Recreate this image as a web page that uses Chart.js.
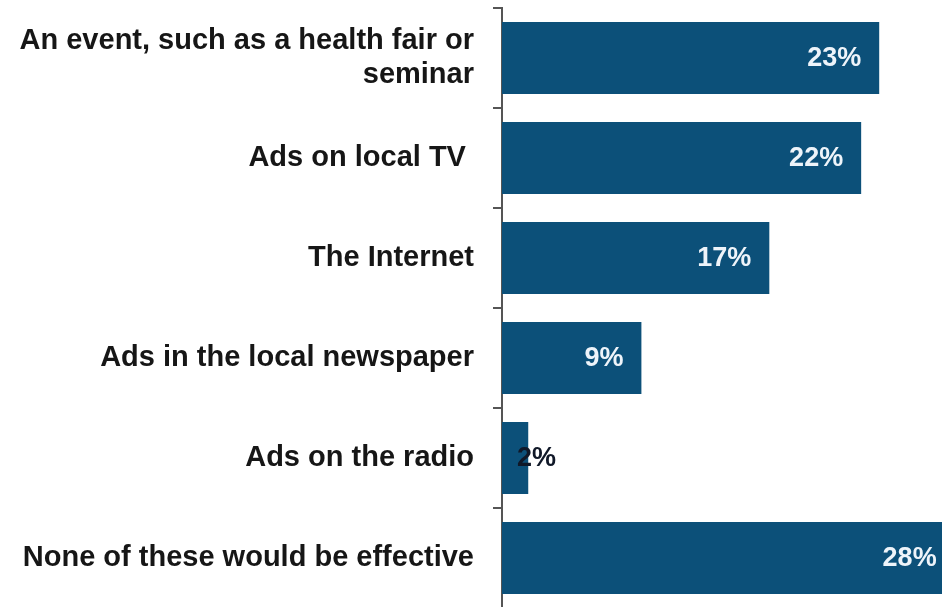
<!DOCTYPE html>
<html>
<head>
<meta charset="utf-8">
<script src="https://cdn.jsdelivr.net/npm/chart.js@4/dist/chart.umd.min.js"></script>
<style>
  html, body { margin: 0; padding: 0; background: #ffffff; overflow: hidden; width: 942px; height: 607px; }
  #wrap { position: absolute; left: 0; top: 0; width: 994px; height: 608px; }
</style>
</head>
<body>
<div id="wrap"><canvas id="c" width="994" height="608"></canvas></div>
<script>
// Categories (top to bottom)
const categories = [
  ["An event, such as a health fair or", "seminar"],
  "Ads on local TV ",
  "The Internet",
  "Ads in the local newspaper",
  "Ads on the radio",
  "None of these would be effective"
];
// Bar lengths (percent)
const barValues = [23.0, 21.9, 16.3, 8.5, 1.6, 27.6];
// Printed value labels (percent)
const valueLabels = [23, 22, 17, 9, 2, 28];

const FONT = '"Liberation Sans", Arial, Helvetica, sans-serif';
const BAR_COLOR = '#0c5079';

const valueLabelPlugin = {
  id: 'valueLabels',
  afterDatasetsDraw(chart) {
    const ctx = chart.ctx;
    const meta = chart.getDatasetMeta(0);
    ctx.save();
    ctx.font = 'bold 27px ' + FONT;
    ctx.textBaseline = 'middle';
    meta.data.forEach((bar, i) => {
      const txt = valueLabels[i] + '%';
      const w = ctx.measureText(txt).width;
      const len = bar.x - bar.base;
      if (len >= w + 36) {
        ctx.fillStyle = '#eef4fa';
        ctx.textAlign = 'right';
        ctx.fillText(txt, bar.x - 18, bar.y + 1);
      } else {
        ctx.fillStyle = '#101828';
        ctx.textAlign = 'left';
        ctx.fillText(txt, bar.base + 15, bar.y + 1);
      }
    });
    ctx.restore();
  }
};

new Chart(document.getElementById('c'), {
  type: 'bar',
  data: {
    labels: categories,
    datasets: [{
      data: barValues,
      backgroundColor: BAR_COLOR,
      borderWidth: 0,
      barPercentage: 0.72,
      categoryPercentage: 1.0
    }]
  },
  options: {
    indexAxis: 'y',
    responsive: false,
    animation: false,
    layout: { padding: { top: 8, left: 0, right: 0, bottom: 0 } },
    plugins: { legend: { display: false }, tooltip: { enabled: false } },
    scales: {
      x: {
        display: false,
        min: 0,
        max: 30
      },
      y: {
        afterFit(scale) {
          scale.width = 502;
          scale.paddingTop = 0;
          scale.paddingBottom = 0;
        },
        grid: {
          offset: true,
          drawOnChartArea: false,
          drawTicks: true,
          tickLength: 9,
          color: '#555555',
          lineWidth: 2
        },
        border: { display: true, color: '#555555', width: 2 },
        ticks: {
          color: '#161616',
          padding: 19,
          font: { family: FONT, size: 29, weight: 'bold', lineHeight: 1.14 }
        }
      }
    }
  },
  plugins: [valueLabelPlugin]
});
</script>
</body>
</html>
